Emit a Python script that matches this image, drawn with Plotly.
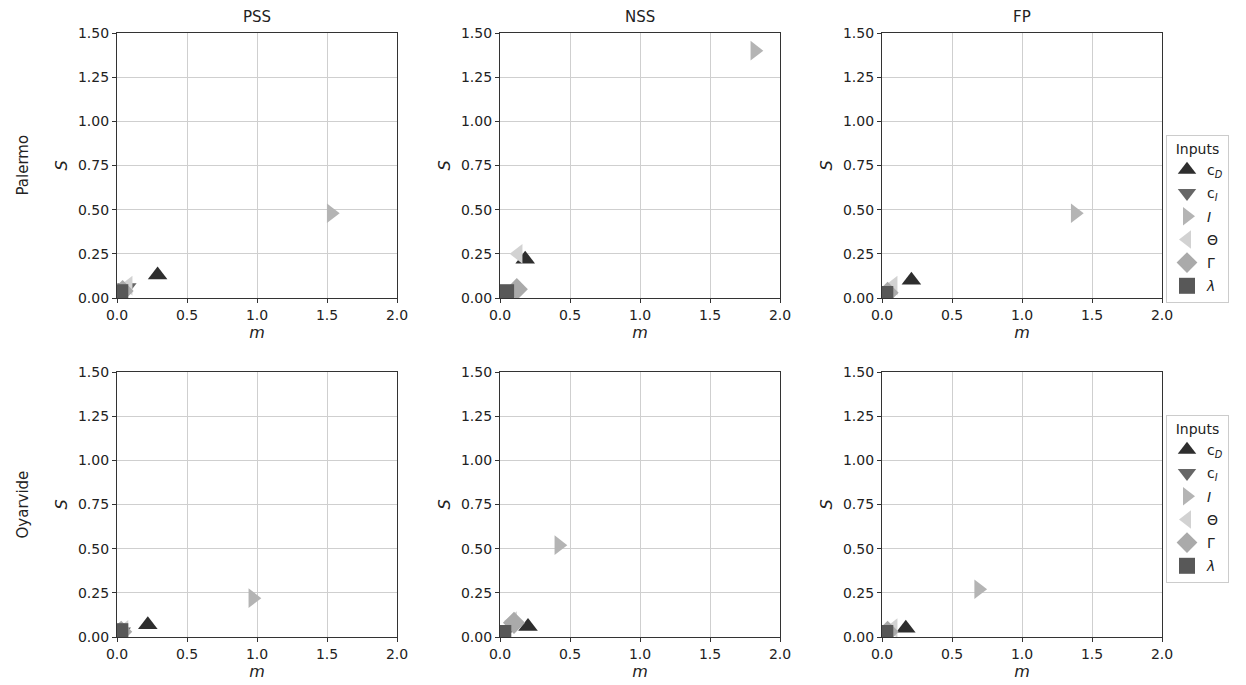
import plotly.graph_objects as go

# ---- data ----
sites = ["Palermo", "Oyarvide"]
methods = ["PSS", "NSS", "FP"]
inputs = ["cD", "cI", "I", "Theta", "Gamma", "lambda"]
input_labels = ["c<sub><i>D</i></sub>", "c<sub><i>I</i></sub>", "<i>I</i>", "Θ", "Γ", "<i>λ</i>"]

# m and S values per (site, method), in the order of inputs
m_palermo_pss = [0.29, 0.07, 1.53, 0.08, 0.04, 0.02]
s_palermo_pss = [0.13, 0.06, 0.48, 0.07, 0.04, 0.03]
m_palermo_nss = [0.18, 0.04, 1.82, 0.13, 0.12, 0.04]
s_palermo_nss = [0.22, 0.03, 1.40, 0.25, 0.05, 0.03]
m_palermo_fp = [0.21, 0.03, 1.38, 0.08, 0.04, 0.02]
s_palermo_fp = [0.10, 0.03, 0.48, 0.07, 0.03, 0.02]
m_oyarvide_pss = [0.22, 0.03, 0.97, 0.05, 0.03, 0.02]
s_oyarvide_pss = [0.07, 0.03, 0.22, 0.04, 0.03, 0.03]
m_oyarvide_nss = [0.20, 0.03, 0.42, 0.09, 0.10, 0.02]
s_oyarvide_nss = [0.06, 0.02, 0.52, 0.09, 0.08, 0.02]
m_oyarvide_fp = [0.17, 0.03, 0.69, 0.08, 0.04, 0.02]
s_oyarvide_fp = [0.05, 0.02, 0.27, 0.05, 0.03, 0.02]

data = {
    ("Palermo", "PSS"): (m_palermo_pss, s_palermo_pss),
    ("Palermo", "NSS"): (m_palermo_nss, s_palermo_nss),
    ("Palermo", "FP"): (m_palermo_fp, s_palermo_fp),
    ("Oyarvide", "PSS"): (m_oyarvide_pss, s_oyarvide_pss),
    ("Oyarvide", "NSS"): (m_oyarvide_nss, s_oyarvide_nss),
    ("Oyarvide", "FP"): (m_oyarvide_fp, s_oyarvide_fp),
}

x_ticks = [0.0, 0.5, 1.0, 1.5, 2.0]
y_ticks = [0.0, 0.25, 0.5, 0.75, 1.0, 1.25, 1.5]

# ---- styles ----
symbols = ["triangle-up", "triangle-down", "triangle-right", "triangle-left", "diamond", "square"]
colors = ["#2e2e2e", "#666666", "#b4b4b4", "#d2d2d2", "#aaaaaa", "#585858"]
W, H = 1246, 685
xdoms = [(117, 397), (500, 780), (882, 1162)]
ydoms = [(33, 298), (372, 637)]

fig = go.Figure()
layout_axes = {}
font = "DejaVu Sans, Arial, sans-serif"
for r, site in enumerate(sites):
    for c, meth in enumerate(methods):
        idx = r * 3 + c + 1
        xa = "x" if idx == 1 else f"x{idx}"
        ya = "y" if idx == 1 else f"y{idx}"
        mv, sv = data[(site, meth)]
        for k in range(len(inputs)):
            fig.add_trace(go.Scatter(
                x=[mv[k]], y=[sv[k]], mode="markers",
                marker=dict(symbol=symbols[k], color=colors[k], size=17, line=dict(width=0)),
                name=input_labels[k], xaxis=xa, yaxis=ya,
                legend="legend" if r == 0 else "legend2",
                legendgroup=f"{site}-{inputs[k]}",
                showlegend=(c == 2), cliponaxis=True,
            ))
        x0, x1 = xdoms[c]
        y0, y1 = ydoms[r]
        axis_common = dict(showline=True, linecolor="#333333", linewidth=1.2, mirror=True,
                           showgrid=True, gridcolor="#cfcfcf", gridwidth=1,
                           ticks="outside", ticklen=4, tickcolor="#333333",
                           zeroline=False, automargin=False,
                           tickfont=dict(size=14, color="#222222", family=font))
        layout_axes["xaxis" if idx == 1 else f"xaxis{idx}"] = dict(
            axis_common, domain=[x0 / W, x1 / W], range=[0, 2.0], tickvals=x_ticks,
            ticktext=[f"{v:.1f}" for v in x_ticks], anchor=ya,
            title=dict(text="<i>m</i>", font=dict(size=16, family=font, color="#222222"), standoff=2))
        layout_axes["yaxis" if idx == 1 else f"yaxis{idx}"] = dict(
            axis_common, domain=[1 - y1 / H, 1 - y0 / H], range=[0, 1.5], tickvals=y_ticks,
            ticktext=[f"{v:.2f}" for v in y_ticks], anchor=xa,
            title=dict(text="<i>S</i>", font=dict(size=16, family=font, color="#222222"), standoff=6))

annotations = []
for c, meth in enumerate(methods):
    x0, x1 = xdoms[c]
    annotations.append(dict(text=meth, x=(x0 + x1) / 2 / W, y=1 - 33 / H, xref="paper", yref="paper",
                            xanchor="center", yanchor="bottom", yshift=5, showarrow=False,
                            font=dict(size=15, family=font, color="#222222")))
for r, site in enumerate(sites):
    y0, y1 = ydoms[r]
    annotations.append(dict(text=site, x=22 / W, y=1 - (y0 + y1) / 2 / H, xref="paper", yref="paper",
                            xanchor="center", yanchor="middle", textangle=-90, showarrow=False,
                            font=dict(size=15, family=font, color="#222222")))

legend_common = dict(title=dict(text="Inputs", font=dict(size=14, family=font, color="#222222"), side="top center"),
                     bgcolor="white", bordercolor="#cccccc", borderwidth=1,
                     font=dict(size=14, family=font, color="#222222"), xanchor="left", yanchor="top",
                     tracegroupgap=2, itemsizing="trace", itemwidth=30)

fig.update_layout(
    width=W, height=H, margin=dict(l=0, r=0, t=0, b=0, autoexpand=False),
    plot_bgcolor="white", paper_bgcolor="white", annotations=annotations,
    legend=dict(legend_common, x=1166 / W, y=1 - 135 / H),
    legend2=dict(legend_common, x=1166 / W, y=1 - 415 / H),
    font=dict(family=font),
    **layout_axes,
)

fig.write_html("out.html")
